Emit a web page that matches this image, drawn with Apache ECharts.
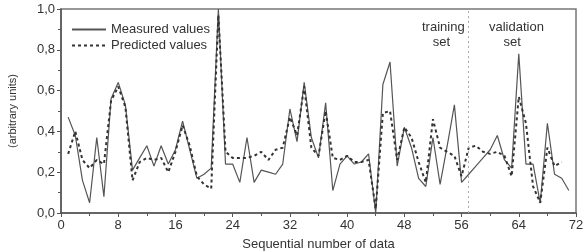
<!DOCTYPE html>
<html>
<head>
<meta charset="utf-8">
<script src="https://cdn.jsdelivr.net/npm/echarts@6/dist/echarts.min.js"></script>
<style>
  html, body { margin: 0; padding: 0; background: #fff; }
  #container { width: 583px; height: 251px; }
</style>
</head>
<body>
<div id="container"></div>
<script>
// Valores (índice 1..71)
var measured = [0.47, 0.38, 0.16, 0.05, 0.37, 0.08, 0.56, 0.64, 0.53, 0.21,
    0.27, 0.33, 0.23, 0.33, 0.24, 0.31, 0.45, 0.31, 0.17, 0.19,
    0.22, 1.0, 0.24, 0.24, 0.15, 0.37, 0.15, 0.21, 0.20, 0.19,
    0.24, 0.51, 0.35, 0.64, 0.37, 0.27, 0.54, 0.11, 0.24, 0.28,
    0.24, 0.25, 0.29, 0.0, 0.63, 0.74, 0.23, 0.42, 0.32, 0.17,
    0.13, 0.37, 0.14, 0.33, 0.53, 0.15, 0.19, 0.23, 0.27, 0.31,
    0.38, 0.26, 0.22, 0.78, 0.24, 0.24, 0.05, 0.44, 0.19, 0.17, 0.11];
var predicted = [0.29, 0.40, 0.26, 0.22, 0.26, 0.24, 0.55, 0.62, 0.52, 0.16,
    0.25, 0.27, 0.26, 0.27, 0.20, 0.30, 0.43, 0.33, 0.18, 0.14,
    0.12, 0.97, 0.30, 0.27, 0.27, 0.27, 0.28, 0.30, 0.26, 0.31,
    0.32, 0.47, 0.38, 0.62, 0.32, 0.28, 0.50, 0.27, 0.26, 0.28,
    0.25, 0.25, 0.26, 0.02, 0.49, 0.50, 0.26, 0.42, 0.37, 0.25,
    0.15, 0.46, 0.32, 0.30, 0.28, 0.18, 0.32, 0.33, 0.30, 0.29,
    0.30, 0.28, 0.18, 0.57, 0.44, 0.13, 0.05, 0.32, 0.23, 0.25];
var seriesNames = ['Measured values', 'Predicted values'];
var splitAt = 57; // separação treino / validação
var xTicks = { min: 0, max: 72, interval: 8 };
var yTicks = { min: 0, max: 1, interval: 0.2 };

function toPairs(arr) {
    return arr.map(function (v, i) { return [i + 1, v]; });
}

var font = 'Liberation Sans, Arial, sans-serif';
var axisColor = '#555';

var dom = document.getElementById('container');
var myChart = echarts.init(dom, null, { renderer: 'canvas' });

var option = {
    animation: false,
    textStyle: { fontFamily: font },
    grid: {
        left: 61, right: 7, top: 9, bottom: 38,
        outerBoundsMode: 'none',
        containLabel: false,
        show: true, borderColor: '#777', borderWidth: 1.5
    },
    legend: {
        orient: 'vertical',
        left: 66, top: 18,
        itemWidth: 34, itemHeight: 10, itemGap: 3,
        itemStyle: { opacity: 0 },
        textStyle: { fontSize: 13, color: '#333', fontFamily: font },
        data: seriesNames
    },
    xAxis: {
        type: 'value',
        min: xTicks.min, max: xTicks.max, interval: xTicks.interval,
        name: 'Sequential number of data',
        nameLocation: 'middle', nameGap: 25,
        nameTextStyle: { fontSize: 13, color: '#333' },
        axisLine: { lineStyle: { color: axisColor, width: 1.5 } },
        axisTick: { length: 4, lineStyle: { color: axisColor } },
        minorTick: { show: true, splitNumber: 2, length: 3, lineStyle: { color: axisColor } },
        axisLabel: { fontSize: 13, color: '#333', margin: 6 },
        splitLine: { show: false }
    },
    yAxis: {
        type: 'value',
        min: yTicks.min, max: yTicks.max, interval: yTicks.interval,
        name: '(arbitrary units)',
        nameLocation: 'middle', nameGap: 43, nameRotate: 90,
        nameTextStyle: { fontSize: 11, color: '#333' },
        axisLine: { show: true, lineStyle: { color: axisColor, width: 1.5 } },
        axisTick: { show: true, length: 4, lineStyle: { color: axisColor } },
        minorTick: { show: true, splitNumber: 2, length: 3, lineStyle: { color: axisColor } },
        axisLabel: {
            fontSize: 13, color: '#333', margin: 6,
            formatter: function (v) { return v.toFixed(1).replace('.', ','); }
        },
        splitLine: { show: false }
    },
    graphic: [
        { type: 'text', left: 422, top: 20, style: { text: 'training\n   set', font: '13px ' + font, fill: '#333', lineHeight: 15 } },
        { type: 'text', left: 489, top: 20, style: { text: 'validation\n    set', font: '13px ' + font, fill: '#333', lineHeight: 15 } }
    ],
    series: [
        {
            name: seriesNames[0],
            type: 'line',
            data: toPairs(measured),
            showSymbol: false,
            symbol: 'none',
            lineStyle: { color: '#555', width: 1.2 },
            itemStyle: { color: '#555' },
            markLine: {
                silent: true,
                symbol: 'none',
                label: { show: false },
                lineStyle: { color: '#aaa', type: [2, 3], width: 1 },
                data: [{ xAxis: splitAt }]
            }
        },
        {
            name: seriesNames[1],
            type: 'line',
            data: toPairs(predicted),
            showSymbol: false,
            symbol: 'none',
            lineStyle: { color: '#333', width: 2, type: [3, 3] },
            itemStyle: { color: '#333' }
        }
    ]
};

myChart.setOption(option);

window.addEventListener('resize', function () {
    myChart.resize();
});
</script>
</body>
</html>
